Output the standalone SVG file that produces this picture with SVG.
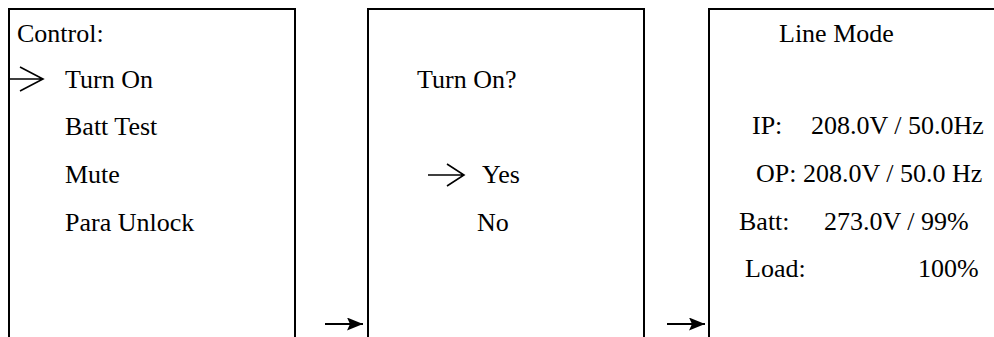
<svg xmlns="http://www.w3.org/2000/svg" width="994" height="337" viewBox="0 0 994 337">
  <defs>
    <style>
      .box { fill: #ffffff; stroke: #000000; stroke-width: 2; }
      .t { font-family: 'Liberation Serif', 'Times New Roman', Times, serif; font-size: 26px; fill: #000000; }
      .ptr { fill: none; stroke: #000000; stroke-width: 1.6; stroke-linejoin: miter; }
      .conn { stroke: #000000; stroke-width: 2; fill: none; }
    </style>
    <marker id="head" markerUnits="userSpaceOnUse" viewBox="0 0 16 13" refX="16" refY="6.5" markerWidth="16" markerHeight="13" orient="auto">
      <path d="M0,0 L16,6.5 L0,13 L3,6.5 Z" fill="#000000"/>
    </marker>
  </defs>
  <rect width="994" height="337" fill="#ffffff"/>

  <g id="node-control">
    <rect class="box" x="9" y="9" width="286" height="340"/>
    <text class="t" x="17" y="42">Control:</text>
    <path class="ptr" d="M9,79 H43 M20,67 L43,79 L20,91"/>
    <text class="t" x="65" y="88">Turn On</text>
    <text class="t" x="65" y="135">Batt Test</text>
    <text class="t" x="65" y="183">Mute</text>
    <text class="t" x="65" y="231">Para Unlock</text>
  </g>

  <g id="node-confirm">
    <rect class="box" x="368" y="9" width="276" height="340"/>
    <text class="t" x="417" y="88">Turn On?</text>
    <path class="ptr" d="M428,175 H464 M447,164 L464,175 L447,186"/>
    <text class="t" x="482" y="183">Yes</text>
    <text class="t" x="477" y="231">No</text>
  </g>

  <g id="node-linemode">
    <rect class="box" x="709" y="9" width="300" height="340"/>
    <text class="t" x="779" y="42">Line Mode</text>
    <text class="t" y="134"><tspan x="752">IP:</tspan><tspan x="811">208.0V / 50.0Hz</tspan></text>
    <text class="t" y="182"><tspan x="756">OP:</tspan><tspan x="803">208.0V / 50.0 Hz</tspan></text>
    <text class="t" y="230"><tspan x="739">Batt:</tspan><tspan x="824">273.0V / 99%</tspan></text>
    <text class="t" y="277"><tspan x="745">Load:</tspan><tspan x="918">100%</tspan></text>
  </g>

  <g id="connectors">
    <line class="conn" x1="325" y1="324" x2="363" y2="324" marker-end="url(#head)"/>
    <line class="conn" x1="667" y1="324" x2="705" y2="324" marker-end="url(#head)"/>
  </g>
</svg>
